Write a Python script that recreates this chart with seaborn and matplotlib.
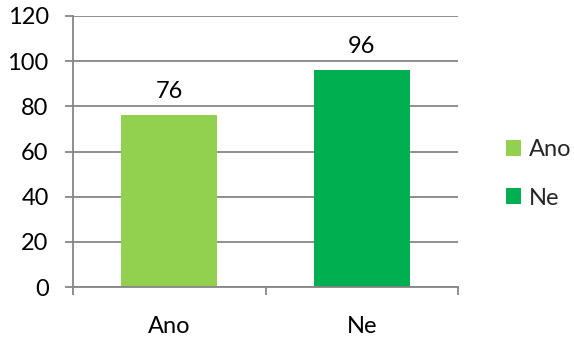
import matplotlib
matplotlib.use("Agg")
import matplotlib.pyplot as plt
import seaborn as sns
import pandas as pd
from matplotlib.patches import Patch
from matplotlib.ticker import FixedLocator

categories = ["Ano", "Ne"]
values = [76, 96]
colors = ["#92D050", "#00B050"]
y_ticks = [0, 20, 40, 60, 80, 100, 120]

sns.set_theme(style="white")
plt.rcParams["font.family"] = ["Lato", "DejaVu Sans"]

df = pd.DataFrame({"odpoved": categories, "pocet": values})

fig = plt.figure(figsize=(5.74, 3.38), dpi=100)
ax = fig.add_axes([73 / 574, 1 - 287 / 338, (458 - 73) / 574, (287 - 16) / 338])

sns.barplot(data=df, x="odpoved", y="pocet", hue="odpoved", palette=colors,
            width=0.5, dodge=False, legend=False, ax=ax, saturation=1,
            linewidth=0, edgecolor="none")

grid_c = "#868686"
fs = 17
ax.set_ylim(0, 120)
ax.set_xlim(-0.5, 1.5)
ax.set_yticks(y_ticks)
ax.yaxis.grid(True, color=grid_c, linewidth=1.3)
ax.set_axisbelow(True)
ax.set_xlabel("")
ax.set_ylabel("")

for s in ["top", "right"]:
    ax.spines[s].set_visible(False)
for s in ["left", "bottom"]:
    ax.spines[s].set_color(grid_c)
    ax.spines[s].set_linewidth(1.3)

ax.tick_params(axis="y", which="major", direction="out", length=5.5, width=1.3,
               color=grid_c, labelsize=fs, pad=12, labelcolor="black", left=True)
ax.tick_params(axis="x", which="major", length=0, labelsize=fs, pad=21, labelcolor="black")
ax.xaxis.set_minor_locator(FixedLocator([-0.5, 0.5, 1.5]))
ax.tick_params(axis="x", which="minor", direction="out", length=5.5, width=1.3,
               color=grid_c, bottom=True)

for i, v in enumerate(values):
    ax.text(i, v + 6, str(v), ha="center", va="bottom", fontsize=fs, color="black")

handles = [Patch(facecolor=c, edgecolor="none") for c in colors]
fig.legend(handles, categories, loc="center left", bbox_to_anchor=(506 / 574, 1 - 174 / 338),
           frameon=False, fontsize=fs, handlelength=0.65, handleheight=0.65,
           handletextpad=0.3, labelspacing=1.15, borderpad=0, borderaxespad=0)

fig.savefig("out.png", dpi=100)
